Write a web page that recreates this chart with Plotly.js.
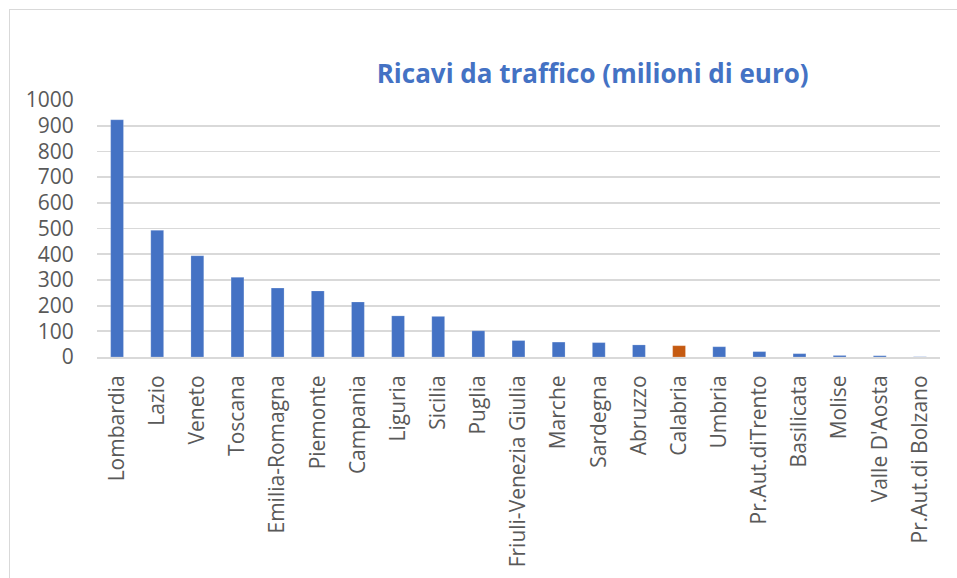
<!DOCTYPE html>
<html>
<head>
<meta charset="utf-8">
<script src="https://cdn.plot.ly/plotly-3.0.1.min.js"></script>
<style>
html,body{margin:0;padding:0;background:#fff;overflow:hidden;}
#frame{position:absolute;left:9px;top:9px;width:1000px;height:1000px;border:1px solid #d9d9d9;box-sizing:border-box;}
#chart{position:absolute;left:0;top:0;width:957px;height:578px;}
</style>
</head>
<body>
<div id="frame"></div>
<div id="chart"></div>
<script>
const regions = ["Lombardia","Lazio","Veneto","Toscana","Emilia-Romagna","Piemonte","Campania","Liguria","Sicilia","Puglia","Friuli-Venezia Giulia","Marche","Sardegna","Abruzzo","Calabria","Umbria","Pr.Aut.diTrento","Basilicata","Molise","Valle D'Aosta","Pr.Aut.di Bolzano"];
const revenues = [923,493,394,310,268,257,214,160,158,102,64,58,56,47,44,40,21,13,6,5,1];
const highlight = "Calabria";
const yTicks = [0,100,200,300,400,500,600,700,800,900,1000];

const colors = regions.map(r => r === highlight ? "#C55A11" : "#4472C4");

Plotly.newPlot("chart", [{
  type: "bar",
  x: regions,
  y: revenues,
  marker: {color: colors, line: {color: "rgba(255,255,255,0.4)", width: 0.5}},
  hoverinfo: "x+y"
}], {
  width: 957, height: 578,
  paper_bgcolor: "rgba(0,0,0,0)",
  plot_bgcolor: "rgba(0,0,0,0)",
  margin: {l: 97, r: 17, t: 100, b: 221},
  bargap: 0.68,
  showlegend: false,
  title: {
    text: "<b>Ricavi da traffico (milioni di euro)</b>",
    font: {family: "Open Sans", size: 26, color: "#4472C4"},
    x: 0.588, xanchor: "center", xref: "paper",
    y: 0.873, yanchor: "middle", yref: "container"
  },
  xaxis: {
    tickangle: -90,
    tickfont: {family: "Open Sans", size: 21, color: "#595959"},
    showgrid: false,
    showline: true, linecolor: "#d9d9d9", linewidth: 2,
    ticks: "outside", ticklen: 8, tickcolor: "rgba(0,0,0,0)",
    fixedrange: true
  },
  yaxis: {
    range: [0, 1000],
    tickvals: yTicks,
    ticktext: yTicks.map(String),
    tickfont: {family: "Open Sans", size: 21, color: "#595959"},
    showgrid: true, gridcolor: "#d9d9d9", gridwidth: 1.8,
    zeroline: false,
    ticks: "outside", ticklen: 18, tickcolor: "rgba(0,0,0,0)",
    fixedrange: true
  }
}, {displayModeBar: false, staticPlot: true});
</script>
</body>
</html>
